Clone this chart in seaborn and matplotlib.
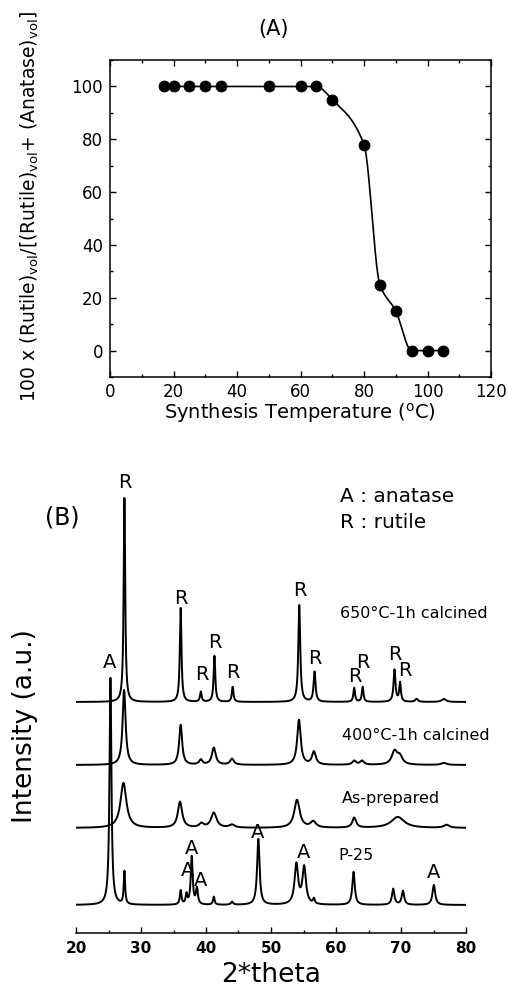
import numpy as np
import pandas as pd
import matplotlib
matplotlib.use("Agg")
import matplotlib.pyplot as plt
from matplotlib.ticker import MultipleLocator
import seaborn as sns

# ---------------- data: panel A ----------------
temps = [17, 20, 25, 30, 35, 50, 60, 65, 70, 80, 85, 90, 95, 100, 105]
rutile_pct = [100, 100, 100, 100, 100, 100, 100, 100, 95, 78, 25, 15, 0, 0, 0]
a_xticks = [0, 20, 40, 60, 80, 100, 120]
a_yticks = [0, 20, 40, 60, 80, 100]

# ---------------- data: panel B (peak tables) ----------------
p650_pos = [27.45, 36.1, 39.2, 41.3, 44.1, 54.35, 56.7, 62.8, 64.1, 69.0, 69.85, 72.4, 76.6]
p650_hgt = [205, 94, 10, 46, 15, 97, 30, 14, 15, 32, 19, 3, 3]
p650_wid = [0.28, 0.3, 0.3, 0.3, 0.3, 0.35, 0.35, 0.3, 0.3, 0.35, 0.3, 0.5, 0.8]

p400_pos = [27.4, 36.1, 39.2, 41.2, 44.0, 54.3, 56.6, 62.8, 64.0, 69.0, 69.8, 76.6]
p400_hgt = [75, 40, 5, 17, 6, 45, 13, 4, 4, 13, 8, 2]
p400_wid = [0.55, 0.55, 0.6, 0.7, 0.7, 0.65, 0.7, 0.7, 0.7, 1.0, 1.0, 1.0]

pas_pos = [27.3, 36.0, 39.3, 41.2, 44.0, 54.0, 56.5, 62.8, 69.5, 77.0]
pas_hgt = [45, 26, 4, 15, 3, 28, 6, 10, 11, 3]
pas_wid = [1.1, 0.8, 0.8, 1.0, 1.0, 1.0, 1.0, 0.7, 2.4, 1.0]

p25_pos = [25.3, 27.45, 36.1, 37.0, 37.8, 38.6, 41.2, 44.0, 48.05, 53.9, 55.1, 56.6, 62.7, 68.8, 70.3, 75.05]
p25_hgt = [227, 33, 14, 10, 48, 16, 8, 3, 66, 40, 37, 5, 33, 16, 14, 20]
p25_wid = [0.35, 0.25, 0.3, 0.3, 0.35, 0.35, 0.3, 0.4, 0.45, 0.65, 0.65, 0.3, 0.45, 0.45, 0.45, 0.5]

pattern_names = ["650°C-1h calcined", "400°C-1h calcined", "As-prepared", "P-25"]
b_xticks = [20, 30, 40, 50, 60, 70, 80]

r_label_x = [27.5, 36.1, 39.3, 41.4, 44.2, 54.4, 56.8, 62.9, 64.2, 69.1, 70.6]
a_label_x = [25.2, 37.8, 37.2, 39.1, 47.95, 55.0, 75.0]

# ---------------- layout (not data) ----------------
offsets = [231, 168, 105, 28]
r_label_y = [451, 334, 258, 290, 261, 343, 274, 256, 270, 278, 263]
a_label_y = [270, 85, 63, 53, 101, 80, 60]
name_pos = [(60.6, 320), (60.9, 198), (60.9, 135), (60.3, 77)]

sns.set_theme(style="ticks")
plt.rcParams["font.family"] = ["DejaVu Sans"]
plt.rcParams["mathtext.fontset"] = "dejavusans"
plt.rcParams["text.color"] = "black"
plt.rcParams["axes.labelcolor"] = "black"
plt.rcParams["xtick.color"] = "black"
plt.rcParams["ytick.color"] = "black"

W, H = 508, 993
fig = plt.figure(figsize=(W / 100, H / 100), dpi=100)
fig.patch.set_facecolor("white")

# ================= Panel A =================
axA = fig.add_axes([110 / W, 1 - 377 / H, 381 / W, 317 / H])


def pchip(x, y, xs):
    x = np.asarray(x, float)
    y = np.asarray(y, float)
    h = np.diff(x)
    d = np.diff(y) / h
    n = len(x)
    m = np.zeros(n)
    for k in range(1, n - 1):
        if d[k - 1] * d[k] <= 0:
            m[k] = 0.0
        else:
            w1 = 2 * h[k] + h[k - 1]
            w2 = h[k] + 2 * h[k - 1]
            m[k] = (w1 + w2) / (w1 / d[k - 1] + w2 / d[k])
    m[0] = d[0]
    m[-1] = d[-1]
    idx = np.clip(np.searchsorted(x, xs) - 1, 0, n - 2)
    t = (xs - x[idx]) / h[idx]
    h00 = 2 * t**3 - 3 * t**2 + 1
    h10 = t**3 - 2 * t**2 + t
    h01 = -2 * t**3 + 3 * t**2
    h11 = t**3 - t**2
    return h00 * y[idx] + h10 * h[idx] * m[idx] + h01 * y[idx + 1] + h11 * h[idx] * m[idx + 1]


xs = np.linspace(min(temps), max(temps), 600)
ys = pchip(temps, rutile_pct, xs)
sns.lineplot(x=xs, y=ys, ax=axA, color="black", lw=1.2, zorder=2)
sns.scatterplot(x=temps, y=rutile_pct, ax=axA, color="black", edgecolor="black",
                s=62, zorder=3, legend=False)

axA.set_xlim(0, 120)
axA.set_ylim(-10, 110)
axA.set_xticks(a_xticks)
axA.set_yticks(a_yticks)
axA.xaxis.set_minor_locator(MultipleLocator(10))
axA.yaxis.set_minor_locator(MultipleLocator(10))
axA.tick_params(which="both", direction="in", top=True, right=True, colors="black",
                labelsize=12, width=1.0)
axA.tick_params(which="major", length=4.5, pad=5)
axA.tick_params(axis="x", which="major", pad=4)
axA.tick_params(which="minor", length=2.5)
for s in axA.spines.values():
    s.set_linewidth(1.1)
    s.set_color("black")

axA.set_xlabel("Synthesis Temperature ($^{\\rm o}$C)", fontsize=14)
axA.xaxis.label.set_verticalalignment("center")
axA.xaxis.set_label_coords((300 - 110) / 381, (377 - 413) / 317)
axA.set_ylabel("100 x (Rutile)$_{\\rm vol}$/[(Rutile)$_{\\rm vol}$+ (Anatase)$_{\\rm vol}$]",
               fontsize=13.5)
axA.yaxis.label.set_verticalalignment("center")
axA.yaxis.set_label_coords((30 - 110) / 381, (377 - 206) / 317)
fig.text(273 / W, 1 - 29 / H, "(A)", ha="center", va="center", fontsize=15)

# ================= Panel B =================
axB = fig.add_axes([76 / W, 60 / H, 390 / W, 463 / H])
theta = np.arange(20.0, 80.0001, 0.02)


def peaks(pos, hgt, wid):
    t = theta[:, None]
    pos = np.asarray(pos)
    hgt = np.asarray(hgt)
    wid = np.asarray(wid)
    return (hgt / (1 + ((t - pos) / (wid / 2)) ** 2)).sum(axis=1)


tables = [(p650_pos, p650_hgt, p650_wid), (p400_pos, p400_hgt, p400_wid),
          (pas_pos, pas_hgt, pas_wid), (p25_pos, p25_hgt, p25_wid)]
frames = []
for name, off, (pp, hh, ww) in zip(pattern_names, offsets, tables):
    frames.append(pd.DataFrame({"theta": theta, "intensity": off + peaks(pp, hh, ww),
                                "pattern": name}))
df = pd.concat(frames, ignore_index=True)
sns.lineplot(data=df, x="theta", y="intensity", units="pattern", estimator=None,
             color="black", lw=1.4, sort=False, ax=axB, legend=False)

axB.set_xlim(20, 80)
axB.set_ylim(0, 463)
axB.set_xticks(b_xticks)
axB.xaxis.set_minor_locator(MultipleLocator(5))
axB.set_yticks([])
for k in ["left", "right", "top"]:
    axB.spines[k].set_visible(False)
axB.spines["bottom"].set_linewidth(1.1)
axB.spines["bottom"].set_color("black")
axB.tick_params(axis="x", which="both", direction="in", colors="black", width=1.0)
axB.tick_params(axis="x", which="major", length=4, pad=6)
axB.tick_params(axis="x", which="minor", length=2)
for lbl in axB.get_xticklabels():
    lbl.set_fontsize(11)
    lbl.set_fontweight("bold")
axB.set_facecolor("none")

for x, y in zip(r_label_x, r_label_y):
    axB.text(x, y, "R", ha="center", va="center", fontsize=14)
for x, y in zip(a_label_x, a_label_y):
    axB.text(x, y, "A", ha="center", va="center", fontsize=14)
for name, (x, y) in zip(pattern_names, name_pos):
    axB.text(x, y, name, ha="left", va="center", fontsize=11.5)
axB.text(60.6, 436, "A : anatase", ha="left", va="center", fontsize=14.5)
axB.text(60.6, 411, "R : rutile", ha="left", va="center", fontsize=14.5)
axB.text((62 - 76) / 390, (933 - 518) / 463, "(B)", transform=axB.transAxes,
         ha="center", va="center", fontsize=17)

axB.set_xlabel("2*theta", fontsize=19)
axB.xaxis.label.set_verticalalignment("center")
axB.xaxis.set_label_coords(0.5, (933 - 975) / 463)
axB.set_ylabel("Intensity (a.u.)", fontsize=19)
axB.yaxis.label.set_verticalalignment("center")
axB.yaxis.set_label_coords((25 - 76) / 390, (933 - 726) / 463)

fig.savefig("out.png", dpi=100, facecolor="white")
